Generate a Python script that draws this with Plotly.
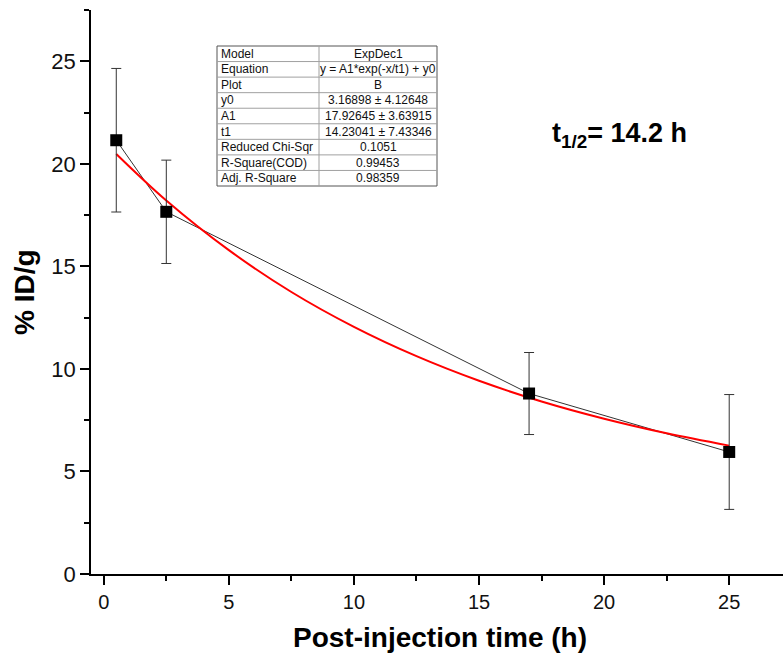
import plotly.graph_objects as go

# ---- data ----
time_h = [0.5, 2.5, 17, 25]
id_per_g = [21.15, 17.66, 8.80, 5.95]
id_err = [3.5, 2.52, 2.0, 2.8]

# red fitted curve (ExpDec1)
fit_x = [0.5, 2.5, 5, 7.5, 10, 12.5, 15, 17.5, 20, 22.5, 25]
fit_y = [20.48, 18.21, 15.79, 13.75, 12.05, 10.62, 9.42, 8.41, 7.57, 6.86, 6.26]

table_labels = ["Model", "Equation", "Plot", "y0", "A1", "t1",
                "Reduced Chi-Sqr", "R-Square(COD)", "Adj. R-Square"]
table_values = ["ExpDec1", "y = A1*exp(-x/t1) + y0", "B",
                "3.16898 \u00b1 4.12648", "17.92645 \u00b1 3.63915",
                "14.23041 \u00b1 7.43346", "0.1051", "0.99453", "0.98359"]

x_ticks = [0, 5, 10, 15, 20, 25]
y_ticks = [0, 5, 10, 15, 20, 25]

FONT = "Arial, Liberation Sans, sans-serif"

fig = go.Figure()

# thin connecting line
fig.add_trace(go.Scatter(x=time_h, y=id_per_g, mode="lines",
                         line=dict(color="#333333", width=1),
                         hoverinfo="skip", showlegend=False))
# red fit
fig.add_trace(go.Scatter(x=fit_x, y=fit_y, mode="lines",
                         line=dict(color="#ff0000", width=2, shape="spline"),
                         showlegend=False))
# markers with error bars
fig.add_trace(go.Scatter(x=time_h, y=id_per_g, mode="markers",
                         marker=dict(symbol="square", size=12, color="black"),
                         error_y=dict(type="data", array=id_err, visible=True,
                                      color="#333333", thickness=1, width=5),
                         showlegend=False))

# ---- layout geometry ----
W, H = 783, 658
ML, MR, MT, MB = 91, 0, 10, 84
PW = W - ML - MR
PH = H - MT - MB

def px2paper_x(px):
    return (px - ML) / PW

def px2paper_y(py):
    return (H - MB - py) / PH

# ---- table drawn with shapes + annotations ----
tl, tr, tt, tb, tc = 217, 437, 46, 186, 319
n = len(table_labels)
rh = (tb - tt) / n
shapes = []
shapes.append(dict(type="rect", xref="paper", yref="paper",
                   x0=px2paper_x(tl), x1=px2paper_x(tr),
                   y0=px2paper_y(tb), y1=px2paper_y(tt),
                   line=dict(color="#555555", width=1), fillcolor="white",
                   layer="above"))
for i in range(1, n):
    yy = px2paper_y(tt + i * rh)
    shapes.append(dict(type="line", xref="paper", yref="paper",
                       x0=px2paper_x(tl), x1=px2paper_x(tr), y0=yy, y1=yy,
                       line=dict(color="#a0a0a0", width=1), layer="above"))
shapes.append(dict(type="line", xref="paper", yref="paper",
                   x0=px2paper_x(tc), x1=px2paper_x(tc),
                   y0=px2paper_y(tb), y1=px2paper_y(tt),
                   line=dict(color="#a0a0a0", width=1), layer="above"))

annotations = []
for i, (lab, val) in enumerate(zip(table_labels, table_values)):
    yc = px2paper_y(tt + (i + 0.5) * rh)
    annotations.append(dict(xref="paper", yref="paper", x=px2paper_x(tl + 2), y=yc,
                            text=lab, showarrow=False, xanchor="left", yanchor="middle",
                            font=dict(family=FONT, size=12, color="#111111")))
    annotations.append(dict(xref="paper", yref="paper", x=px2paper_x((tc + tr) / 2), y=yc,
                            text=val, showarrow=False, xanchor="center", yanchor="middle",
                            font=dict(family=FONT, size=12, color="#111111")))

# half-life label
annotations.append(dict(xref="paper", yref="paper", x=px2paper_x(619), y=px2paper_y(135),
                        text="<b>t<sub>1/2</sub>= 14.2 h</b>", showarrow=False,
                        xanchor="center", yanchor="middle",
                        font=dict(family=FONT, size=27, color="black")))
# axis titles
annotations.append(dict(xref="paper", yref="paper", x=px2paper_x(440), y=px2paper_y(637),
                        text="<b>Post-injection time (h)</b>", showarrow=False,
                        xanchor="center", yanchor="middle",
                        font=dict(family=FONT, size=28, color="black")))
annotations.append(dict(xref="paper", yref="paper", x=px2paper_x(24), y=px2paper_y(292),
                        text="<b>% ID/g</b>", showarrow=False, textangle=-90,
                        xanchor="center", yanchor="middle",
                        font=dict(family=FONT, size=28, color="black")))

fig.update_layout(
    width=W, height=H,
    margin=dict(l=ML, r=MR, t=MT, b=MB),
    paper_bgcolor="white", plot_bgcolor="white",
    shapes=shapes, annotations=annotations,
    showlegend=False,
    xaxis=dict(range=[-0.51, 27.15], tickvals=x_ticks, ticktext=[str(v) for v in x_ticks],
               showgrid=False, zeroline=False, showline=True, linecolor="black", linewidth=1.5,
               ticks="outside", ticklen=9, tickwidth=1.5, tickcolor="black",
               minor=dict(dtick=2.5, tick0=0, ticks="outside", ticklen=5, tickwidth=1.5,
                          tickcolor="black", showgrid=False),
               tickfont=dict(family=FONT, size=20, color="#111111")),
    yaxis=dict(range=[0, 27.5], tickvals=y_ticks, ticktext=[str(v) for v in y_ticks],
               showgrid=False, zeroline=False, showline=True, linecolor="black", linewidth=1.5,
               ticks="outside", ticklen=9, tickwidth=1.5, tickcolor="black",
               minor=dict(dtick=2.5, tick0=0, ticks="outside", ticklen=5, tickwidth=1.5,
                          tickcolor="black", showgrid=False),
               tickfont=dict(family=FONT, size=22, color="#111111")),
)

fig.write_html("out.html", config={"displayModeBar": False},
               post_script="document.body.style.margin='0';document.body.style.padding='0';")
